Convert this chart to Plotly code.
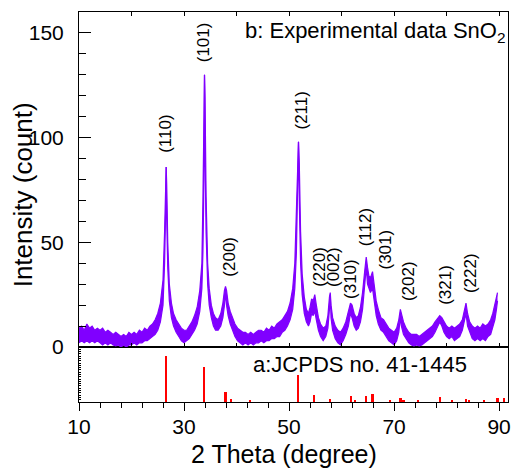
import plotly.graph_objects as go

# ---------------- data ----------------
# Experimental XRD pattern of SnO2: 2-theta and the lower / upper edge of the noisy trace
theta = [10.0, 10.5, 11.0, 11.5, 12.0, 12.5, 13.0, 13.5, 14.0, 14.5, 15.0, 15.5, 16.0, 16.5,
         17.0, 17.5, 18.0, 18.5, 19.0, 19.5, 20.0, 20.5, 21.0, 21.5, 22.0, 22.5, 23.0, 23.5,
         24.0, 24.5, 25.0, 25.5, 26.0, 26.3, 26.5, 26.6, 26.7, 26.9, 27.2, 27.6, 28.0, 28.5,
         29.0, 29.5, 30.0, 30.5, 31.0, 31.5, 32.0, 32.5, 33.0, 33.4, 33.6, 33.8, 33.9, 34.0,
         34.2, 34.5, 34.8, 35.2, 35.6, 36.0, 36.5, 37.0, 37.4, 37.7, 37.9, 38.1, 38.4, 38.8,
         39.2, 39.7, 40.2, 40.7, 41.2, 41.7, 42.2, 42.7, 43.2, 43.7, 44.2, 44.7, 45.2, 45.7,
         46.2, 46.7, 47.2, 47.7, 48.2, 48.7, 49.2, 49.7, 50.2, 50.7, 51.1, 51.4, 51.6, 51.8,
         51.95, 52.2, 52.5, 52.9, 53.3, 53.7, 54.0, 54.3, 54.6, 54.9, 55.2, 55.6, 56.0, 56.5,
         57.0, 57.4, 57.7, 57.85, 58.0, 58.3, 58.8, 59.3, 59.8, 60.3, 60.8, 61.3, 61.7, 62.0,
         62.4, 62.8, 63.2, 63.6, 64.0, 64.4, 64.7, 64.95, 65.2, 65.5, 65.9, 66.2, 66.6, 67.0,
         67.5, 68.0, 68.5, 69.0, 69.5, 70.0, 70.5, 70.9, 71.2, 71.4, 71.8, 72.3, 72.8, 73.3,
         73.8, 74.3, 74.8, 75.3, 75.8, 76.3, 76.8, 77.3, 77.8, 78.3, 78.7, 79.1, 79.5, 80.0,
         80.5, 81.0, 81.5, 82.0, 82.5, 83.0, 83.4, 83.7, 84.0, 84.4, 84.9, 85.4, 85.9, 86.4,
         86.9, 87.4, 87.9, 88.4, 88.8, 89.2, 89.5, 89.7]
intensity_low = [2, 3, 2, 3, 2, 3, 2, 3, 2, 1, 2, 1, 2, 1,
                 0.5, 1, 0, 1, 0, 1, 1, 2, 1, 2, 2, 3, 3, 4,
                 5, 6, 8, 12, 20, 40, 65, 86, 62, 38, 22, 14, 10, 7,
                 5, 3, 2, 3, 4, 6, 8, 11, 17, 28, 45, 80, 130, 95,
                 55, 30, 20, 14, 10, 8, 8, 10, 14, 20, 26, 20, 15, 11,
                 8, 5, 3, 2, 1, 2, 1, 2, 1, 2, 2, 3, 2, 3,
                 3, 4, 4, 5, 5, 7, 8, 10, 13, 18, 28, 45, 70, 98,
                 70, 40, 25, 16, 12, 10, 12, 16, 15, 17, 13, 8, 5, 3,
                 5, 9, 18, 25, 14, 8, 4, 2, 1, 3, 6, 10, 16, 14,
                 10, 8, 9, 12, 18, 28, 38, 30, 28, 26, 28, 22, 15, 11,
                 8, 7, 5, 3, 2, 1, 3, 7, 14, 10, 6, 4, 2, 1,
                 0.5, 1, 0.5, 1, 2, 3, 4, 5, 7, 10, 12, 10, 7, 5,
                 4, 5, 3, 4, 5, 8, 12, 16, 10, 7, 4, 3, 4, 3,
                 4, 3, 5, 6, 9, 13, 18, 22]
intensity_high = [9, 10, 8, 11, 9, 10, 8, 9, 8, 9, 7, 8, 7, 6,
                  7, 6, 5, 6, 5, 7, 6, 7, 6, 8, 7, 9, 8, 10,
                  11, 13, 16, 21, 32, 55, 80, 86, 78, 50, 30, 21, 16, 13,
                  11, 9, 8, 8, 10, 12, 15, 19, 27, 40, 70, 110, 130, 120,
                  72, 40, 28, 20, 16, 14, 13, 16, 21, 27, 29, 27, 21, 17,
                  14, 11, 9, 8, 7, 7, 6, 7, 6, 7, 8, 8, 7, 9,
                  8, 10, 9, 11, 12, 13, 15, 17, 21, 28, 40, 65, 90, 98,
                  88, 55, 35, 24, 18, 16, 19, 23, 22, 25, 20, 14, 11, 9,
                  10, 15, 24, 26, 20, 14, 10, 8, 7, 9, 12, 17, 21, 20,
                  16, 14, 15, 19, 26, 36, 43, 38, 34, 33, 36, 30, 22, 18,
                  14, 13, 11, 9, 8, 7, 9, 13, 18, 16, 12, 9, 7, 6,
                  6, 6, 5, 6, 7, 8, 9, 10, 12, 14, 15, 14, 12, 10,
                  9, 10, 9, 10, 11, 13, 17, 21, 16, 12, 10, 9, 10, 9,
                  11, 10, 11, 13, 16, 20, 24, 26]

# JCPDS no. 41-1445 reference lines
jcpds_theta = [26.61, 33.89, 37.95, 38.97, 42.64, 51.78, 54.76, 57.82, 61.87, 62.59,
               64.72, 65.94, 69.23, 71.28, 71.80, 74.49, 78.71, 81.10, 83.68, 84.20,
               87.20, 89.76, 90.90]
jcpds_int = [100, 76, 22, 6, 3, 58, 16, 7, 13, 4,
             13, 17, 3, 9, 5, 3, 11, 5, 7, 4,
             4, 8, 9]

# Miller-index labels
hkl_labels = ["(110)", "(101)", "(200)", "(211)", "(220)", "(002)", "(310)", "(112)",
              "(301)", "(202)", "(321)", "(222)"]

x_ticks = [10, 30, 50, 70, 90]
y_ticks = [0, 50, 100, 150]

# ---------------- styling / layout ----------------
FONT = "Liberation Sans, Arial, sans-serif"
PURPLE = "#8000ff"
label_pos = [(26.45, 102), (33.6, 145.5), (38.7, 43), (52.3, 113), (55.9, 38.3), (58.6, 38.3),
             (61.8, 32.5), (64.6, 57), (68.4, 46.4), (72.9, 31.6), (79.9, 29.7), (84.7, 35.4)]

fig = go.Figure()

fig.add_trace(go.Scatter(x=theta, y=intensity_low, mode="lines",
                         line=dict(color=PURPLE, width=1.2),
                         xaxis="x2", yaxis="y2", showlegend=False, hoverinfo="skip"))
fig.add_trace(go.Scatter(x=theta, y=intensity_high, mode="lines",
                         line=dict(color=PURPLE, width=1.2), fill="tonexty",
                         fillcolor=PURPLE, xaxis="x2", yaxis="y2", showlegend=False))

fig.add_trace(go.Bar(x=jcpds_theta, y=jcpds_int, width=0.38,
                     marker=dict(color="#ff0000", line=dict(width=0)),
                     xaxis="x", yaxis="y", showlegend=False))

split = 55 / 390
axis_common = dict(showline=True, linecolor="black", linewidth=1, showgrid=False,
                   zeroline=False, tickcolor="black")

fig.update_layout(
    width=512, height=470,
    margin=dict(l=79, r=1, t=12, b=68),
    paper_bgcolor="white", plot_bgcolor="white",
    font=dict(family=FONT, color="black"),
    bargap=0,
    xaxis=dict(axis_common, domain=[0, 1], range=[10, 91.7], anchor="y",
               tickmode="array", tickvals=x_ticks, ticks="outside", ticklen=8,
               tickfont=dict(size=21, family=FONT), ticklabelstandoff=-2,
               ticklabeloverflow="allow",
               minor=dict(dtick=4, tick0=10, ticks="outside", ticklen=5, tickcolor="black"),
               mirror=True),
    yaxis=dict(axis_common, domain=[0, split], range=[0, 120], anchor="x",
               showticklabels=False, ticks="inside", ticklen=2, dtick=5, mirror=True),
    xaxis2=dict(axis_common, domain=[0, 1], range=[10, 91.7], anchor="y2", matches="x",
                showticklabels=False, ticks="inside", ticklen=4, tick0=10, dtick=10,
                mirror="ticks"),
    yaxis2=dict(axis_common, domain=[split, 1], range=[0, 160], anchor="x2",
                tickmode="array", tickvals=y_ticks, ticks="inside", ticklen=12,
                tickfont=dict(size=21, family=FONT), ticklabelstandoff=10,
                minor=dict(dtick=10, ticks="inside", ticklen=7, tickcolor="black"),
                mirror=True),
)

annotations = []
for lab, (lx, ly) in zip(hkl_labels, label_pos):
    annotations.append(dict(text=lab, x=lx, y=ly, xref="x2", yref="y2", showarrow=False,
                            textangle=-90, font=dict(size=17, family=FONT, color="black"),
                            xanchor="center", yanchor="middle"))
annotations += [
    dict(text="b: Experimental data SnO<sub>2</sub>", x=0.997, y=0.949, xref="paper", yref="paper",
         xanchor="right", yanchor="middle", showarrow=False,
         font=dict(size=22, family=FONT, color="black")),
    dict(text="a:JCPDS no. 41-1445", x=0.655, y=0.095, xref="paper", yref="paper",
         xanchor="center", yanchor="middle", showarrow=False,
         font=dict(size=22, family=FONT, color="black")),
    dict(text="Intensity (count)", x=-0.1296, y=0.531, xref="paper", yref="paper",
         xanchor="center", yanchor="middle", textangle=-90, showarrow=False,
         font=dict(size=26, family=FONT, color="black")),
    dict(text="2 Theta (degree)", x=0.479, y=-0.133, xref="paper", yref="paper",
         xanchor="center", yanchor="middle", showarrow=False,
         font=dict(size=25, family=FONT, color="black")),
]
fig.update_layout(annotations=annotations)

fig.write_html("out.html")
